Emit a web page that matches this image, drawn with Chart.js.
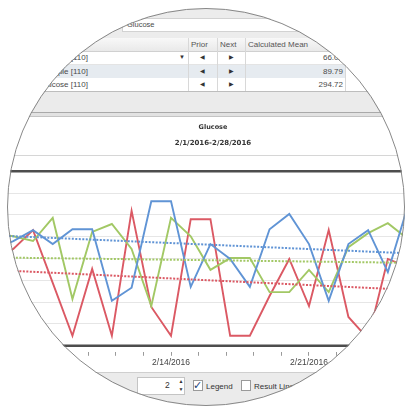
<!DOCTYPE html>
<html>
<head>
<meta charset="utf-8">
<script src="https://cdn.jsdelivr.net/npm/chart.js@4/dist/chart.umd.min.js"></script>
<style>
  html, body { margin: 0; padding: 0; background: #fff; }
  body { width: 406px; height: 411px; position: relative; overflow: hidden;
    font-family: "Liberation Sans", Arial, sans-serif; color: #4a4a4a; }
  #lens { position: absolute; left: 0; top: 0; width: 406px; height: 411px;
    clip-path: circle(199px at 206px 207px); background: #fff; }
  #ring { position: absolute; left: 7px; top: 8px; width: 398px; height: 398px;
    border-radius: 50%; border: 1.5px solid #888; box-sizing: border-box; pointer-events: none; }
  .abs { position: absolute; }
  .cell { position: absolute; font-size: 8px; line-height: 13px; white-space: nowrap; }
  .arrow { font-size: 6px; color: #333; text-align: center; }
  .vsep { position: absolute; width: 1px; background: #d8d8d8; }
  .box { position: absolute; box-sizing: border-box; }
</style>
</head>
<body>
<div id="lens">
  <!-- field row -->
  <div class="abs" style="left:0;top:0;width:406px;height:38px;background:#ececec"></div>
  <div class="box" style="left:122px;top:18px;width:300px;height:14px;background:#fff;border:1px solid #d2d2d2"></div>
  <div class="cell" style="left:127px;top:18px;font-size:7.5px">Glucose</div>

  <!-- grid header -->
  <div class="abs" style="left:0;top:38px;width:406px;height:13px;background:linear-gradient(#f8f8f8,#e9e9e9);border-bottom:1px solid #d0d0d0"></div>
  <div class="cell" style="left:191px;top:38px;color:#555">Prior</div>
  <div class="cell" style="left:220px;top:38px;color:#555">Next</div>
  <div class="cell" style="left:248px;top:38px;color:#555">Calculated Mean</div>

  <!-- grid rows -->
  <div class="abs" style="left:0;top:52px;width:345px;height:12px;background:#fff;border-bottom:1px solid #e4e4e4"></div>
  <div class="abs" style="left:0;top:65px;width:345px;height:13px;background:#e6ebf0"></div>
  <div class="abs" style="left:0;top:78px;width:345px;height:13px;background:#fff"></div>
  <div class="abs" style="left:0;top:91px;width:406px;height:1px;background:#bdbdbd"></div>
  <div class="vsep" style="left:188px;top:38px;height:53px"></div>
  <div class="vsep" style="left:217px;top:38px;height:53px"></div>
  <div class="vsep" style="left:245px;top:38px;height:53px"></div>
  <div class="vsep" style="left:345px;top:38px;height:53px"></div>

  <div class="cell" style="right:318px;top:51px">Glucose [110]</div>
  <div class="cell arrow" style="left:178px;top:51px;width:8px">▼</div>
  <div class="cell" style="right:318px;top:65px">Glucose Sample [110]</div>
  <div class="cell" style="right:318px;top:78px">Glucose [110]</div>
  <div class="cell arrow" style="left:198px;top:51px;width:8px">◀</div>
  <div class="cell arrow" style="left:198px;top:65px;width:8px">◀</div>
  <div class="cell arrow" style="left:198px;top:78px;width:8px">◀</div>
  <div class="cell arrow" style="left:227px;top:51px;width:8px">▶</div>
  <div class="cell arrow" style="left:227px;top:65px;width:8px">▶</div>
  <div class="cell arrow" style="left:227px;top:78px;width:8px">▶</div>
  <div class="cell" style="right:63px;top:51px">66.00</div>
  <div class="cell" style="right:63px;top:65px">89.79</div>
  <div class="cell" style="right:63px;top:78px">294.72</div>

  <!-- grey panel under grid -->
  <div class="abs" style="left:0;top:92px;width:406px;height:21px;background:#ebebeb"></div>
  <div class="abs" style="left:0;top:112px;width:406px;height:5px;background:#e2e2e2;border-top:1px solid #a9a9a9;border-bottom:1px solid #c4c4c4;box-sizing:border-box"></div>

  <!-- chart -->
  <div class="abs" style="left:-20px;top:117px;width:466px;height:253px">
    <canvas id="chart"></canvas>
  </div>
  <div class="abs" style="left:0;top:155px;width:406px;height:1px;background:#d6d6d6"></div>

  <!-- bottom toolbar -->
  <div class="abs" style="left:0;top:372px;width:406px;height:39px;background:#ebebeb;border-top:1px solid #cfcfcf"></div>
  <div class="box" style="left:137px;top:377px;width:48px;height:18px;background:#fff;border:1px solid #c4c4c4"></div>
  <div class="cell" style="left:165px;top:379px;font-size:8.5px;color:#333">2</div>
  <div class="cell arrow" style="left:177px;top:377px;width:8px;line-height:8px;font-size:5px">▲<br>▼</div>
  <div class="box" style="left:193px;top:380px;width:10px;height:11px;background:#fff;border:1px solid #9a9a9a"></div>
  <div class="cell" style="left:193px;top:379px;font-size:11px;line-height:12px;color:#1d3f7a">✓</div>
  <div class="cell" style="left:206px;top:380px;font-size:8px;color:#333">Legend</div>
  <div class="box" style="left:241px;top:380px;width:10px;height:11px;background:#fff;border:1px solid #9a9a9a"></div>
  <div class="cell" style="left:254px;top:380px;font-size:8px;color:#333">Result Lines</div>
</div>
<div id="ring"></div>

<script>
// readings per day of February 2016
const days = [5, 6, 7, 8, 9, 10, 11, 12, 13, 14, 15, 16, 17, 18, 19, 20, 21, 22, 23, 24, 25, 26];
const blueValues = [222, 240, 265, 233, 267, 267, 103, 133, 331, 331, 135, 233, 199, 135, 267, 302, 233, 103, 233, 265, 169, 318];
const greenValues = [256, 251, 240, 293, 107, 261, 279, 222, 91, 293, 251, 174, 201, 201, 123, 123, 174, 123, 226, 258, 281, 245];
const redValues = [194, 222, 265, 144, 23, 176, 23, 309, 89, 23, 290, 290, 23, 23, 114, 199, 91, 265, 66, 16, 199, 181];

// dotted trend lines, value at each end
const trendDays = [4, 28];
const blueTrend = [255, 208];
const greenTrend = [203, 189];
const redTrend = [176, 124];

const labelDays = [7, 14, 21, 28];
const chartTitle = "Glucose";
const chartRange = "2/1/2016-2/28/2016";

const blue = "#6094d5", green = "#a2c865", red = "#db5964";

const pts = (xs, ys) => xs.map((x, i) => ({ x, y: ys[i] }));

function line(data, color, dotted) {
  return {
    data, borderColor: color, borderWidth: dotted ? 2 : 1.9, pointRadius: 0, tension: 0,
    borderDash: dotted ? [2, 1.5] : [], fill: false,
  };
}

// thick dark frame at top and bottom of the plot
const frame = {
  id: "frame",
  afterDatasetsDraw(chart) {
    const { ctx, chartArea: a, width } = chart;
    ctx.save();
    ctx.strokeStyle = "#4d4d4d";
    ctx.lineWidth = 2.5;
    ctx.beginPath();
    ctx.moveTo(0, a.top); ctx.lineTo(width, a.top);
    ctx.moveTo(0, a.bottom); ctx.lineTo(width, a.bottom);
    ctx.stroke();
    ctx.restore();
  },
};

new Chart(document.getElementById("chart"), {
  type: "line",
  data: {
    datasets: [
      line(pts(trendDays, blueTrend), blue, true),
      line(pts(trendDays, greenTrend), green, true),
      line(pts(trendDays, redTrend), red, true),
      line(pts(days, blueValues), blue),
      line(pts(days, greenValues), green),
      line(pts(days, redValues), red),
    ],
  },
  options: {
    responsive: true,
    maintainAspectRatio: false,
    animation: false,
    layout: { padding: 0 },
    plugins: {
      legend: { display: false },
      tooltip: { enabled: false },
      title: {
        display: true, text: chartTitle, color: "#333",
        font: { family: "DejaVu Sans", size: 6.5, weight: "bold" },
        padding: { top: 6, bottom: 8 },
      },
      subtitle: {
        display: true, text: chartRange, color: "#333",
        font: { family: "DejaVu Sans", size: 7, weight: "bold" },
        padding: { top: 0, bottom: 24 },
      },
    },
    scales: {
      x: {
        type: "linear", min: 4.31, max: 27.95,
        border: { display: false },
        grid: {
          drawOnChartArea: false, tickLength: 10, tickColor: "#9a9a9a",
          tickBorderDash: [0, 6, 4, 40],
        },
        ticks: {
          stepSize: 1.4, autoSkip: false, maxRotation: 0, includeBounds: false,
          padding: 2, color: "#444",
          font: { family: "Liberation Sans", size: 8.5 },
          callback: (v) => {
            const d = Math.round(v);
            return Math.abs(v - d) < 0.01 && labelDays.includes(d) ? "2/" + d + "/2016" : "";
          },
        },
      },
      y: {
        min: 0, max: 400,
        border: { display: false },
        grid: { color: "#e6e6e6", drawTicks: false },
        ticks: { display: false, stepSize: 50 },
      },
    },
  },
  plugins: [frame],
});
</script>
</body>
</html>
